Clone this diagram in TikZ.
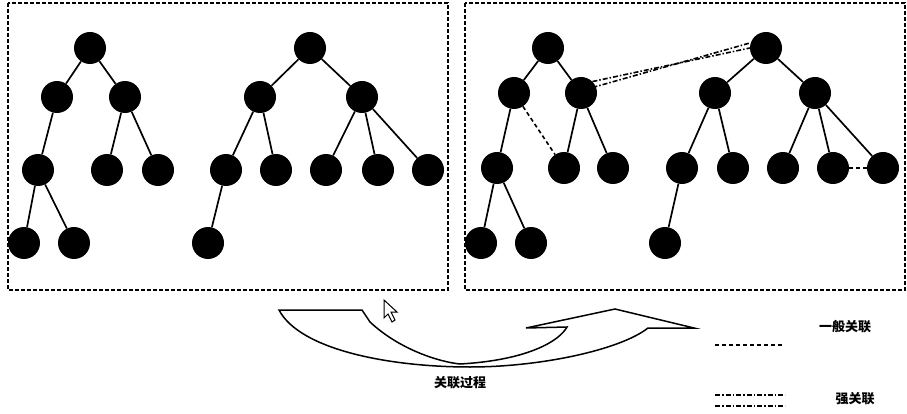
\documentclass[tikz,border=0pt]{standalone}
\usepackage{fontspec}
\newfontfamily\cjk{Noto Sans CJK SC}
\begin{document}
\begin{tikzpicture}[x=1pt,y=-1pt,
  nd/.style={circle,fill=black,minimum size=32pt,inner sep=0pt},
  ed/.style={line width=1.7pt},
  weak/.style={line width=1.6pt,dash pattern=on 4pt off 3pt},
  strong/.style={line width=1.6pt,dash pattern=on 5pt off 2pt on 1.5pt off 2pt},
  panel/.style={line width=1.5pt,dash pattern=on 4pt off 2pt},
  lbl/.style={font=\cjk\bfseries\fontsize{13}{15}\selectfont}]
\useasboundingbox (0,0) rectangle (907,414);
\draw[panel] (8,3) rectangle (448,290);
\draw[panel] (465,3) rectangle (905,290);
% left panel
\node[nd] (a1) at (90,48) {};
\node[nd] (a2) at (57,97) {};
\node[nd] (a3) at (125,97) {};
\node[nd] (a4) at (38,170) {};
\node[nd] (a5) at (107,170) {};
\node[nd] (a6) at (158,170) {};
\node[nd] (a7) at (24,243) {};
\node[nd] (a8) at (74,243) {};
\draw[ed] (a1)--(a2) (a1)--(a3) (a2)--(a4) (a3)--(a5) (a3)--(a6) (a4)--(a7) (a4)--(a8);
\node[nd] (b1) at (310,48) {};
\node[nd] (b2) at (260,97) {};
\node[nd] (b3) at (362,97) {};
\node[nd] (b4) at (226,170) {};
\node[nd] (b5) at (276,170) {};
\node[nd] (b6) at (326,170) {};
\node[nd] (b7) at (378,170) {};
\node[nd] (b8) at (428,170) {};
\node[nd] (b9) at (208,243) {};
\draw[ed] (b1)--(b2) (b1)--(b3) (b2)--(b4) (b2)--(b5) (b3)--(b6) (b3)--(b7) (b3)--(b8) (b4)--(b9);
% right panel
\node[nd] (c1) at (548,48) {};
\node[nd] (c2) at (514,93) {};
\node[nd] (c3) at (581,93) {};
\node[nd] (c4) at (497,168) {};
\node[nd] (c5) at (564,168) {};
\node[nd] (c6) at (613,168) {};
\node[nd] (c7) at (481,243) {};
\node[nd] (c8) at (531,243) {};
\draw[ed] (c1)--(c2) (c1)--(c3) (c2)--(c4) (c3)--(c5) (c3)--(c6) (c4)--(c7) (c4)--(c8);
\node[nd] (d1) at (766,48) {};
\node[nd] (d2) at (715,93) {};
\node[nd] (d3) at (815,93) {};
\node[nd] (d4) at (682,168) {};
\node[nd] (d5) at (733,168) {};
\node[nd] (d6) at (783,168) {};
\node[nd] (d7) at (833,168) {};
\node[nd] (d8) at (883,168) {};
\node[nd] (d9) at (665,243) {};
\draw[ed] (d1)--(d2) (d1)--(d3) (d2)--(d4) (d2)--(d5) (d3)--(d6) (d3)--(d7) (d3)--(d8) (d4)--(d9);
\draw[weak] (c2)--(c5);
\draw[weak] (d7)--(d8);
\draw[strong] (c3.north east)--(d1.west);
\draw[strong] ([yshift=-6pt]c3.north east)--([yshift=5pt]d1.west);
% process arrow
\draw[line width=1.5pt,fill=white] (279,310)--(362,310)--(370,322)
  .. controls (400,350) and (440,362) .. (460,364)
  .. controls (530,360) and (560,340) .. (567,327) -- (526,328) -- (615,309) -- (694,328) -- (648,328)
  .. controls (620,350) and (540,367) .. (470,367)
  .. controls (390,367) and (300,350) .. (279,310) -- cycle;
% cursor
\draw[fill=white,line width=1pt] (384,300)--(384,318)--(388,314)--(392,322)--(395,320)--(391,312)--(397,312)--cycle;
\node[lbl] (t) at (460,383) {关联过程};
\coordinate (w1) at (715,345); \coordinate (w2) at (782,345);
\draw[weak] (w1)--(w2);
\node[lbl] (tw) at (845,327) {一般关联};
\coordinate (s1) at (715,395); \coordinate (s2) at (785,395);
\coordinate (s3) at (715,406); \coordinate (s4) at (785,406);
\draw[strong] (s1)--(s2); \draw[strong] (s3)--(s4);
\node[lbl] (ts) at (855,399) {强关联};
\end{tikzpicture}
\end{document}
